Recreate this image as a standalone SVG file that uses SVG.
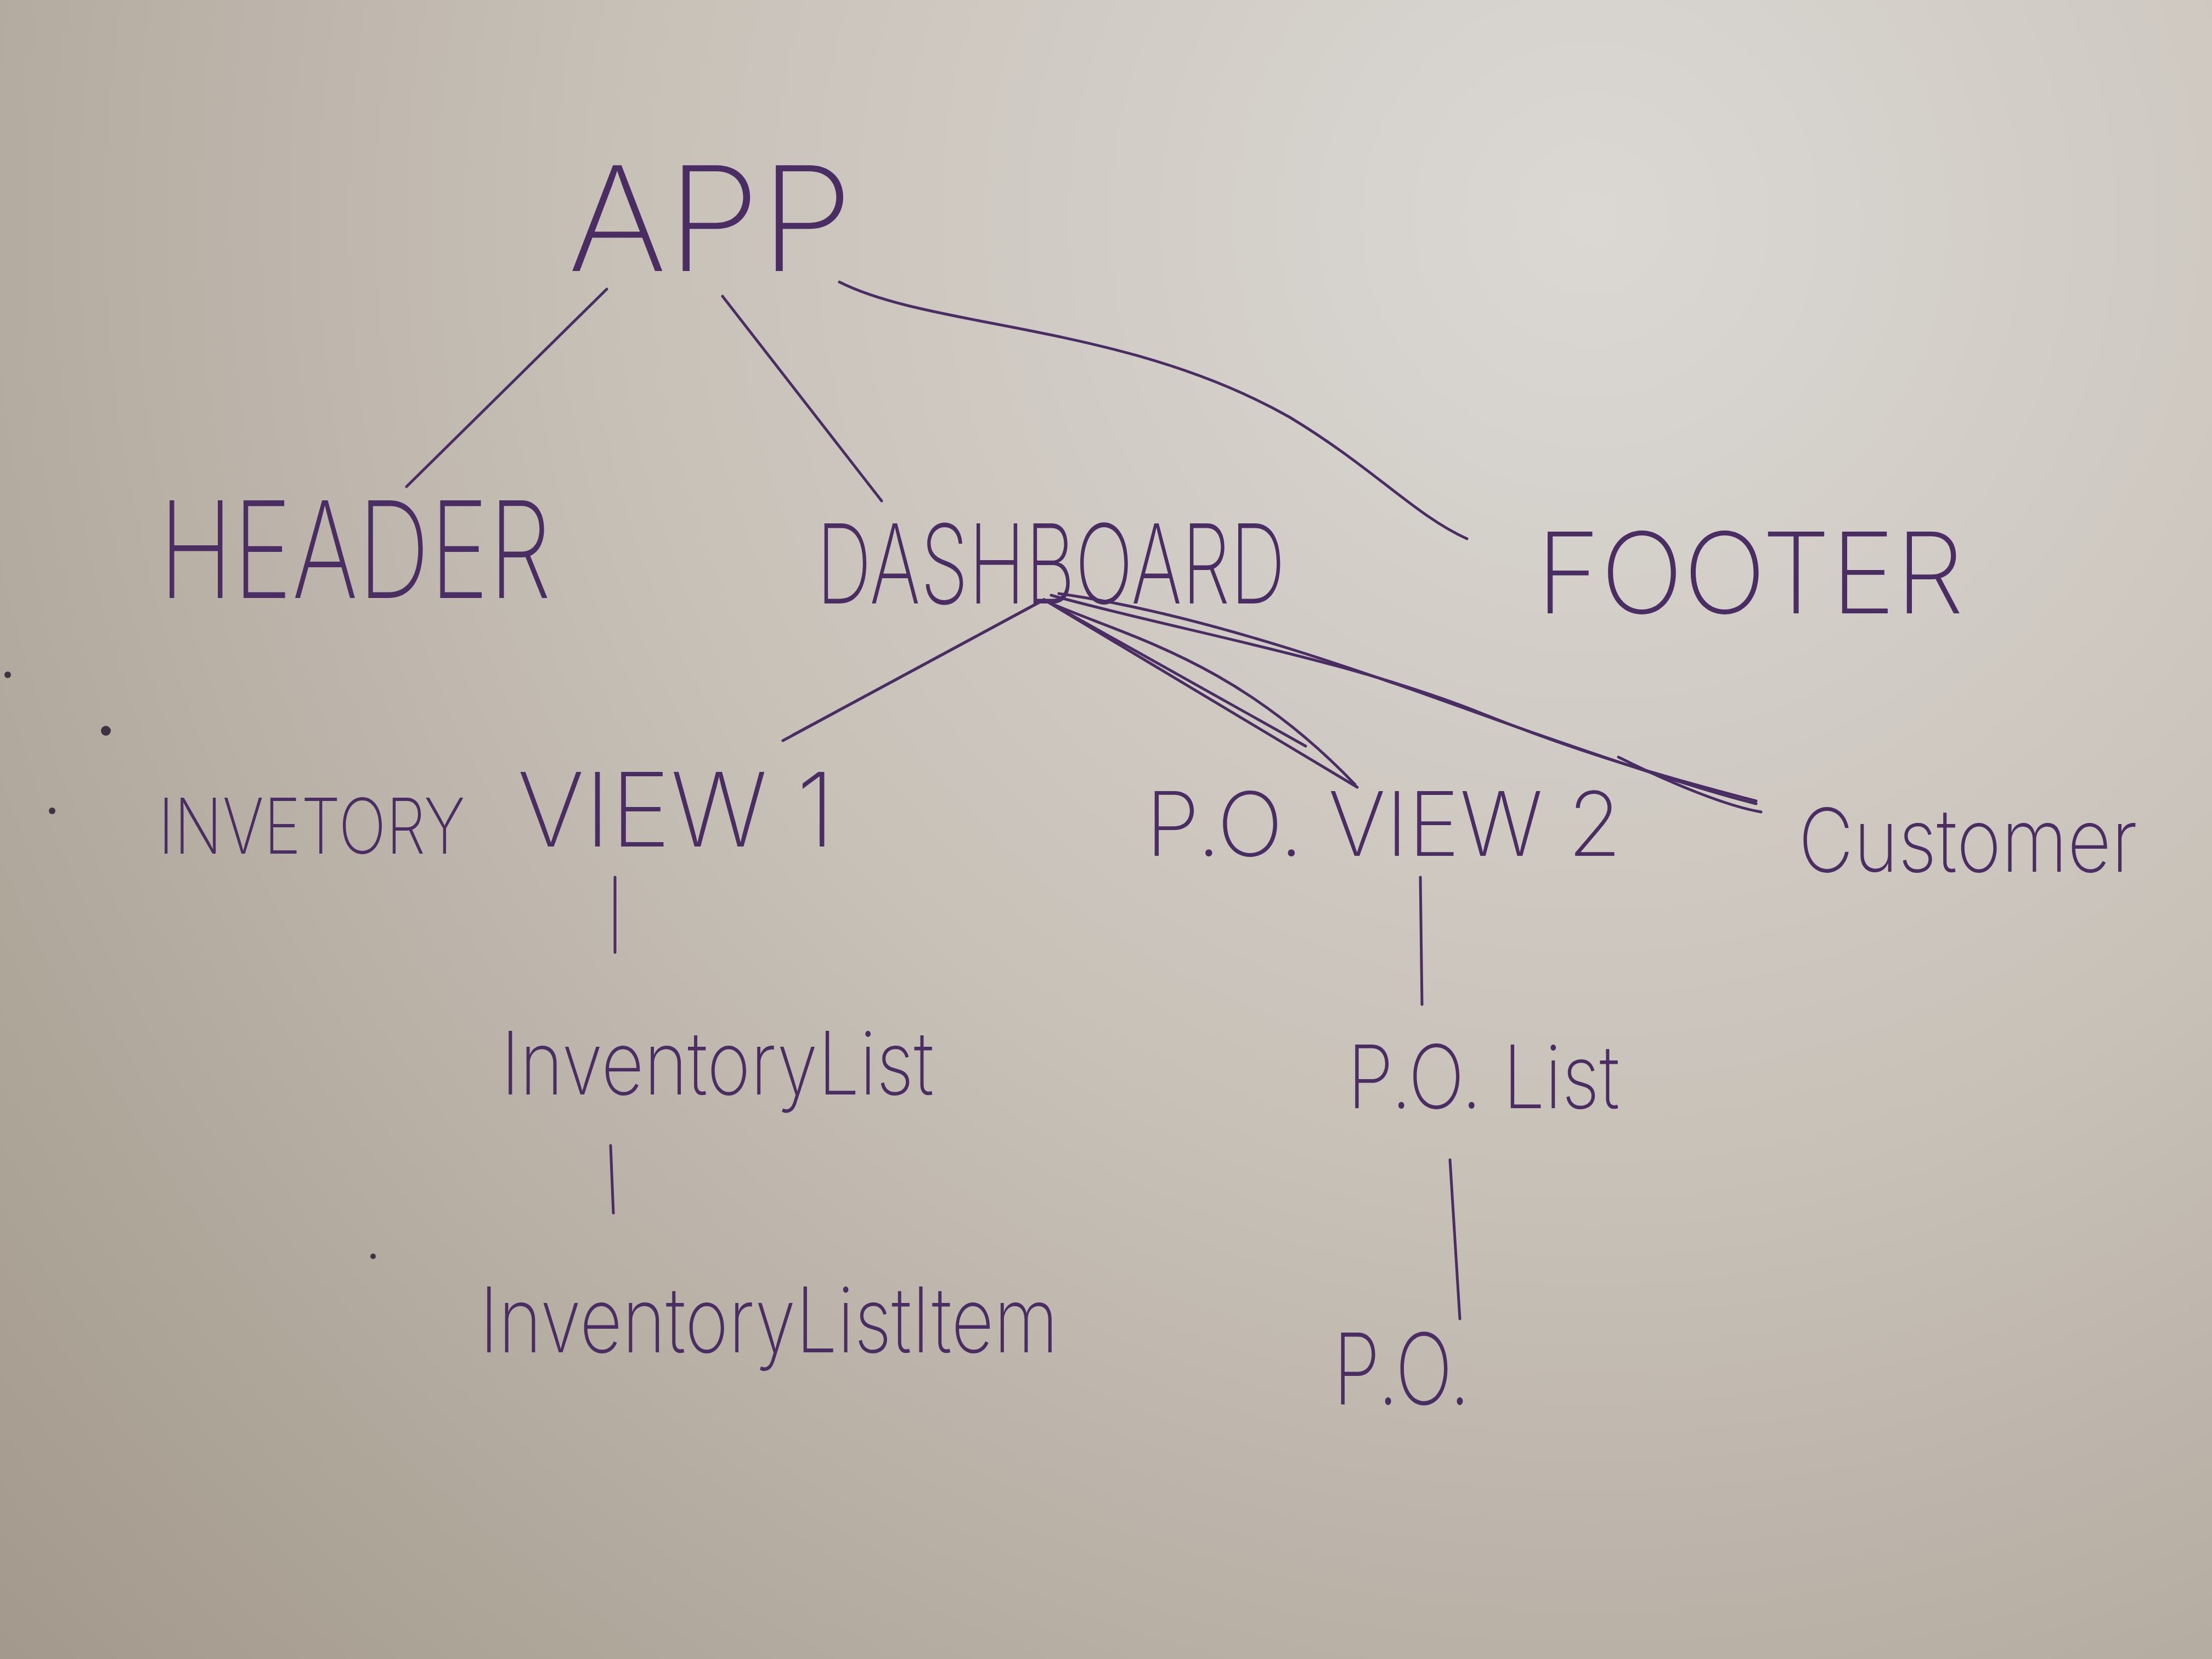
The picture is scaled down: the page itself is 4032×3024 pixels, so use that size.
<svg xmlns="http://www.w3.org/2000/svg" width="4032" height="3024" viewBox="0 0 4032 3024">
<defs>
<radialGradient id="paper" cx="2900" cy="400" r="3900" gradientUnits="userSpaceOnUse">
<stop offset="0" stop-color="#dbd8d4"/>
<stop offset="0.45" stop-color="#c8c1b8"/>
<stop offset="1" stop-color="#a3998c"/>
</radialGradient>
<style>
.t{font-family:Inter,"Liberation Sans","DejaVu Sans",sans-serif;fill:#4a2d63;font-weight:200}
.c{fill:none;stroke:#4a2d63;stroke-width:5;stroke-linecap:round;stroke-linejoin:round}
.dot{fill:#3e3340}
</style>
</defs>
<rect width="4032" height="3024" fill="url(#paper)"/>
<g id="marks">
<circle class="dot" cx="193" cy="1332" r="9"/>
<circle class="dot" cx="14" cy="1230" r="6"/>
<circle class="dot" cx="95" cy="1478" r="6"/>
<circle class="dot" cx="680" cy="2290" r="5"/>
</g>
<g id="connectors">
<path class="c" d="M1106,527 L741,887"/>
<path class="c" d="M1317,540 L1607,913"/>
<path class="c" d="M1530,514 C1700,600 2050,590 2350,760 C2500,850 2580,940 2674,982"/>
<path class="c" d="M1903,1093 L1427,1350"/>
<path class="c" d="M1900,1095 L1445,1340"/>
<path class="c" d="M1903,1093 L2474,1435"/>
<path class="c" d="M1905,1095 C2050,1160 2250,1200 2470,1430"/>
<path class="c" d="M1903,1093 L2380,1360"/>
<path class="c" d="M1916,1085 C2150,1150 2450,1200 2700,1300 C2900,1380 3050,1420 3201,1460"/>
<path class="c" d="M1930,1082 C2200,1120 2500,1230 2750,1320 C2950,1390 3100,1440 3201,1465"/>
<path class="c" d="M2950,1380 C3050,1430 3150,1470 3210,1480"/>
<path class="c" d="M1121,1599 L1121,1736"/>
<path class="c" d="M1113,2088 L1118,2211"/>
<path class="c" d="M2589,1599 L2592,1831"/>
<path class="c" d="M2643,2114 L2661,2404"/>
</g>
<g id="app"><text class="t" x="1035" y="494" font-size="265" textLength="520" lengthAdjust="spacingAndGlyphs">APP</text></g>
<g id="header"><text class="t" x="290" y="1090" font-size="245" textLength="715" lengthAdjust="spacingAndGlyphs">HEADER</text></g>
<g id="dashboard"><text class="t" x="1488" y="1100" font-size="200" textLength="855" lengthAdjust="spacingAndGlyphs">DASHBOARD</text></g>
<g id="footer"><text class="t" x="2800" y="1118" font-size="205" textLength="780" lengthAdjust="spacingAndGlyphs">FOOTER</text></g>
<g id="inventory-view"><text class="t" x="288" y="1556" font-size="140" textLength="560" lengthAdjust="spacingAndGlyphs">INVETORY</text><text class="t" x="943" y="1543" font-size="187" textLength="579" lengthAdjust="spacingAndGlyphs">VIEW 1</text></g>
<g id="po-view"><text class="t" x="2088" y="1560" font-size="162" textLength="868" lengthAdjust="spacingAndGlyphs">P.O. VIEW 2</text></g>
<g id="customer"><text class="t" x="3278" y="1589" font-size="160" textLength="618" lengthAdjust="spacingAndGlyphs">Customer</text></g>
<g id="inventory-list"><text class="t" x="913" y="1995" font-size="160" textLength="789" lengthAdjust="spacingAndGlyphs">InventoryList</text></g>
<g id="po-list"><text class="t" x="2456" y="2020" font-size="160" textLength="496" lengthAdjust="spacingAndGlyphs">P.O. List</text></g>
<g id="inventory-list-item"><text class="t" x="874" y="2465" font-size="165" textLength="1055" lengthAdjust="spacingAndGlyphs">InventoryListItem</text></g>
<g id="po"><text class="t" x="2430" y="2560" font-size="180" textLength="250" lengthAdjust="spacingAndGlyphs">P.O.</text></g>
</svg>
